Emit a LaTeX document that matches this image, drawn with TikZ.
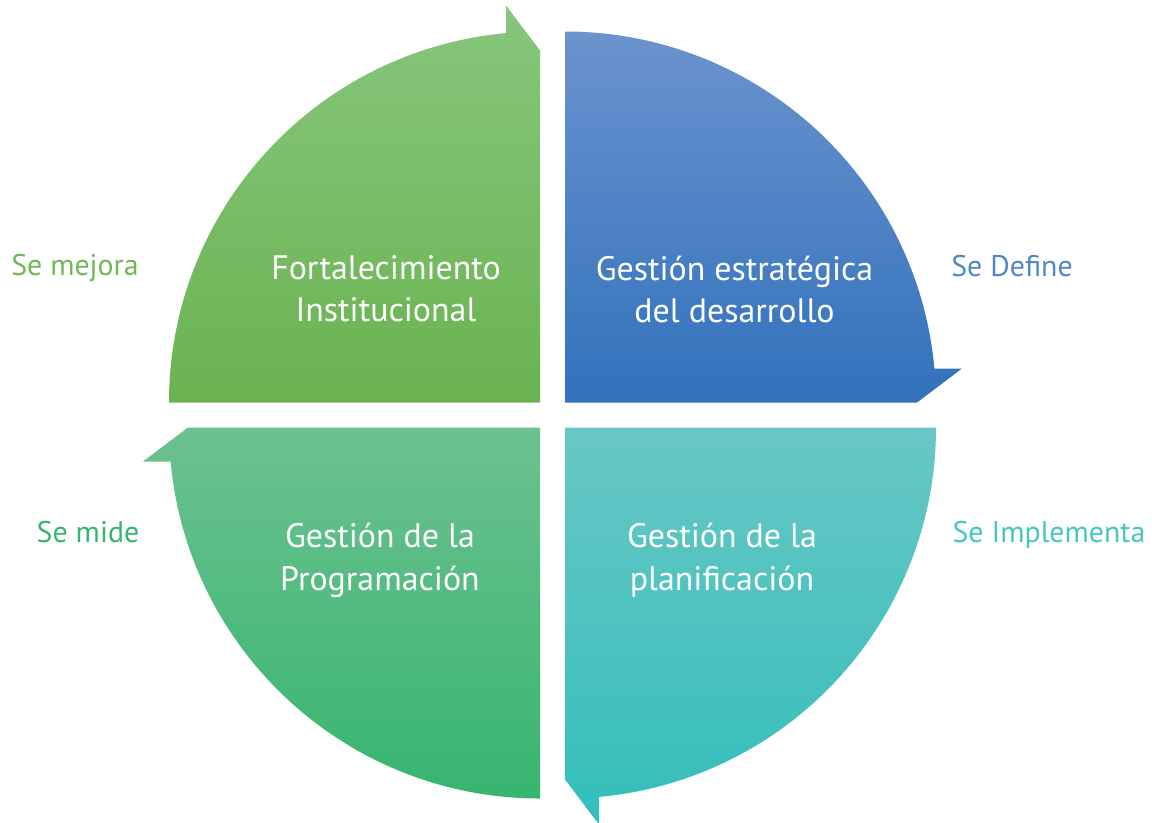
\documentclass[tikz,border=0pt]{standalone}
\usepackage{fontspec}
\setmainfont{PT Sans}
\usepackage{xcolor}
\usepackage{tikz}
\usetikzlibrary{calc}

\definecolor{tlTop}{HTML}{87C67D}
\definecolor{tlBot}{HTML}{6AB350}
\definecolor{trTop}{HTML}{6B93CE}
\definecolor{trBot}{HTML}{3172BC}
\definecolor{brTop}{HTML}{68C7C5}
\definecolor{brBot}{HTML}{33BEBB}
\definecolor{blTop}{HTML}{6CC190}
\definecolor{blBot}{HTML}{37B570}

\begin{document}
\begin{tikzpicture}[
	quadtxt/.style = {align=center, text=white, font=\fontsize{19.3}{24.2}\selectfont},
	sidetxt/.style = {anchor=base, font=\fontsize{17}{23.8}\selectfont}
]
	\useasboundingbox (-11.05,-8.14) rectangle (11.99,8.3);
	% four quarters, each ends in a half arrow head (clockwise)
	\shade[top color=tlTop, bottom color=tlBot] (-0.25,0.25) -- (-7.67,0.25) arc[start angle=180, end angle=95.26, radius=7.42] -- (-0.93,8.19) -- (-0.25,7.29) -- cycle;
	\shade[top color=trTop, bottom color=trBot] (0.25,0.25) -- (0.25,7.67) arc[start angle=90, end angle=5.26, radius=7.42] -- (8.19,0.93) -- (7.29,0.25) -- cycle;
	\shade[top color=brTop, bottom color=brBot] (0.25,-0.25) -- (7.67,-0.25) arc[start angle=0, end angle=-84.74, radius=7.42] -- (0.93,-8.19) -- (0.25,-7.29) -- cycle;
	\shade[top color=blTop, bottom color=blBot] (-0.25,-0.25) -- (-0.25,-7.67) arc[start angle=-90, end angle=-174.74, radius=7.42] -- (-8.19,-0.93) -- (-7.29,-0.25) -- cycle;
	% texts inside
	\node[quadtxt] (fort) at (-3.33,2.46) {Fortalecimiento\strut\\Institucional\strut};
	\node[quadtxt] (estr) at (3.64,2.44) {Gestión estratégica\strut\\del desarrollo\strut};
	\node[quadtxt] (plan) at (3.39,-2.91) {Gestión de la\strut\\planificación\strut};
	\node[quadtxt] (prog) at (-3.45,-2.91) {Gestión de la\strut\\Programación\strut};
	% texts outside
	\node[sidetxt, text=tlBot!95!white] (mejora) at (-9.55,2.8) {Se mejora};
	\node[sidetxt, text=trBot!85!white] (define) at (9.19,2.78) {Se Define};
	\node[sidetxt, text=blBot] (mide) at (-9.29,-2.54) {Se mide};
	\node[sidetxt, text=brBot!90!white] (implementa) at (9.93,-2.54) {Se Implementa};
\end{tikzpicture}
\end{document}
